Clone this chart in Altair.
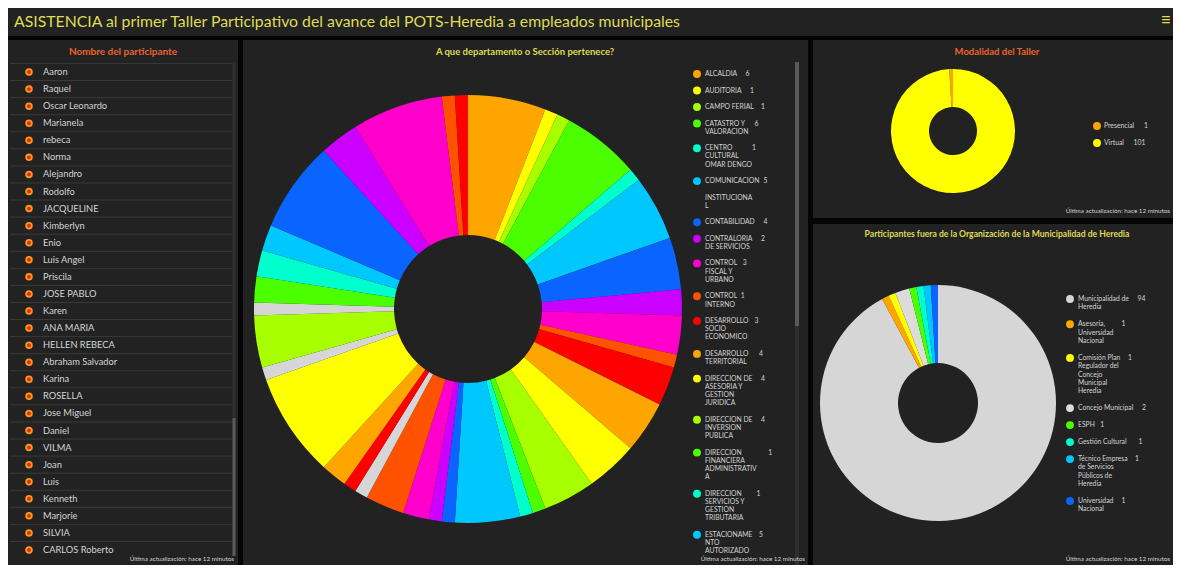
import altair as alt
import pandas as pd

FONT = "Lato"
PAGE_BG = "#050505"
PANEL_BG = "#222222"
ORANGE_T = "#e8642c"
YELLOW_T = "#dfdc55"
TXT = "#d4d4d4"

TITLE = "ASISTENCIA al primer Taller Participativo del avance del POTS-Heredia a empleados municipales"
FOOT = "Última actualización: hace 12 minutos"

# ---------------- data ----------------
participants = ["Aaron", "Raquel", "Oscar Leonardo", "Marianela", "rebeca", "Norma",
                "Alejandro", "Rodolfo", "JACQUELINE", "Kimberlyn", "Enio", "Luis Angel",
                "Priscila", "JOSE PABLO", "Karen", "ANA MARIA", "HELLEN REBECA",
                "Abraham Salvador", "Karina", "ROSELLA", "Jose Miguel", "Daniel", "VILMA",
                "Joan", "Luis", "Kenneth", "Marjorie", "SILVIA", "CARLOS Roberto"]

dept_names = ["ALCALDIA", "AUDITORIA", "CAMPO FERIAL", "CATASTRO Y VALORACION",
              "CENTRO CULTURAL OMAR DENGO", "COMUNICACION INSTITUCIONAL", "CONTABILIDAD",
              "CONTRALORIA DE SERVICIOS", "CONTROL FISCAL Y URBANO", "CONTROL INTERNO",
              "DESARROLLO SOCIO ECONOMICO", "DESARROLLO TERRITORIAL",
              "DIRECCION DE ASESORIA Y GESTION JURIDICA", "DIRECCION DE INVERSION PUBLICA",
              "DIRECCION FINANCIERA ADMINISTRATIVA", "DIRECCION SERVICIOS Y GESTION TRIBUTARIA",
              "ESTACIONAMIENTO AUTORIZADO", "GESTION AMBIENTAL", "GESTION DE COBROS",
              "GESTION DEL RIESGO", "GESTION SOCIAL", "GUARDERIA", "INFORMATICA", "INGENIERIA",
              "INSPECCION MUNICIPAL", "MERCADO", "OFICINA DE LA MUJER", "PATENTES",
              "PLANIFICACION", "POLICIA MUNICIPAL", "PROVEEDURIA", "RECURSOS HUMANOS",
              "SALUD OCUPACIONAL", "SERVICIOS PUBLICOS", "TESORERIA", "TOPOGRAFIA"]
dept_counts = [6, 1, 1, 6, 1, 5, 4, 2, 3, 1, 3, 4, 4, 4, 1, 1, 5,
               1, 1, 2, 3, 1, 1, 2, 8, 1, 4, 1, 2, 2, 2, 7, 3, 7, 1, 1]
dept_gray = ["GUARDERIA", "MERCADO", "PATENTES"]
# labels shown in the (scrolled) legend, wrapped as in the dashboard
dept_legend_labels = ["ALCALDIA", "AUDITORIA", "CAMPO FERIAL", "CATASTRO Y\nVALORACION",
                      "CENTRO\nCULTURAL\nOMAR DENGO", "COMUNICACION\n\nINSTITUCIONA\nL",
                      "CONTABILIDAD", "CONTRALORIA\nDE SERVICIOS", "CONTROL\nFISCAL Y\nURBANO",
                      "CONTROL\nINTERNO", "DESARROLLO\nSOCIO\nECONOMICO", "DESARROLLO\nTERRITORIAL",
                      "DIRECCION DE\nASESORIA Y\nGESTION\nJURIDICA", "DIRECCION DE\nINVERSION\nPUBLICA",
                      "DIRECCION\nFINANCIERA\nADMINISTRATIV\nA", "DIRECCION\nSERVICIOS Y\nGESTION\nTRIBUTARIA",
                      "ESTACIONAME\nNTO\nAUTORIZADO"]

modal_names = ["Presencial", "Virtual"]
modal_counts = [1, 101]

ext_names = ["Municipalidad de Heredia", "Asesoría, Universidad Nacional",
             "Comisión Plan Regulador del Concejo Municipal Heredia", "Concejo Municipal",
             "ESPH", "Gestión Cultural", "Técnico Empresa de Servicios Públicos de Heredia",
             "Universidad Nacional"]
ext_counts = [94, 1, 1, 2, 1, 1, 1, 1]
ext_legend_labels = ["Municipalidad de\nHeredia", "Asesoría,\nUniversidad\nNacional",
                     "Comisión Plan\nRegulador del\nConcejo\nMunicipal\nHeredia",
                     "Concejo Municipal", "ESPH", "Gestión Cultural",
                     "Técnico Empresa\nde Servicios\nPúblicos de\nHeredia", "Universidad\nNacional"]

# ---------------- styles ----------------
palette = ["#FFA500", "#FFFF00", "#A8FF00", "#4CFF00", "#00FFCC", "#00C8FF",
           "#0A64FF", "#CC00FF", "#FF00CC", "#FF5200", "#FF0000"]
GRAY = "#D6D6D6"
dept_colors = []
k = 0
for n in dept_names:
    if n in dept_gray:
        dept_colors.append(GRAY)
    else:
        dept_colors.append(palette[k % len(palette)])
        k += 1
modal_colors = ["#FFA500", "#FFFF00"]
ext_colors = [GRAY, "#FFA500", "#FFFF00", "#DCDCDC", "#4CFF00", "#00FFCC", "#00C8FF", "#0A64FF"]


def text_width(s):
    w = 0.0
    for c in s:
        if c == " ":
            w += 2.0
        elif c.isupper() or c.isdigit():
            w += 4.55
        else:
            w += 3.5
    return w


def legend_frames(labels, counts, names, y0, gap=17.0, lh=8.4):
    entries, lines_rows = [], []
    y = y0
    for lab, cnt, nm in zip(labels, counts, names):
        lines = lab.split("\n")
        entries.append({"name": nm, "val": str(cnt), "ly": y,
                        "vw": max(text_width(l) for l in lines)})
        for i, l in enumerate(lines):
            if l:
                lines_rows.append({"line": l, "ty": y + i * lh})
        y += gap + (len(lines) - 1) * lh
    return pd.DataFrame(entries), pd.DataFrame(lines_rows)


def note(text, x, y, color=TXT, size=7, align="left", weight="normal", baseline="middle"):
    return alt.Chart(pd.DataFrame({"t": [text]})).mark_text(
        align=align, baseline=baseline, color=color, fontSize=size, fontWeight=weight, font=FONT
    ).encode(x=alt.value(x), y=alt.value(y), text="t:N")


def bar(x, x2, y, y2, color):
    return alt.Chart(pd.DataFrame({"a": [0]})).mark_rect(color=color).encode(
        x=alt.value(x), x2=alt.value(x2), y=alt.value(y), y2=alt.value(y2))


def legend_layers(frames, H, cx, tx, domain, colors, size=6.8):
    ent, lines = frames
    ys = alt.Scale(domain=[0, H], range=[0, H], zero=False, nice=False)
    dots = alt.Chart(ent).mark_circle(size=62, opacity=1).encode(
        x=alt.value(cx), y=alt.Y("ly:Q", scale=ys, axis=None),
        color=alt.Color("name:N", scale=alt.Scale(domain=domain, range=colors), legend=None))
    labs = alt.Chart(lines).mark_text(align="left", baseline="middle", color=TXT, fontSize=size,
                                      font=FONT).encode(
        x=alt.value(tx), y=alt.Y("ty:Q", scale=ys, axis=None), text="line:N")
    vals = alt.Chart(ent).transform_calculate(vx=f"{tx} + datum.vw + 4").mark_text(
        align="left", baseline="middle", color=TXT, fontSize=size, font=FONT).encode(
        x=alt.X("vx:Q", scale=alt.Scale(domain=[0, 1000], range=[0, 1000], zero=False, nice=False), axis=None),
        y=alt.Y("ly:Q", scale=ys, axis=None), text="val:N")
    return [dots, labs, vals]


# ---------------- title bar ----------------
TW, TH = 1165, 28
titlebar = alt.layer(
    note(TITLE, 6, 14, color=YELLOW_T, size=15.8),
    note("≡", 1158, 13, color=YELLOW_T, size=18, align="center"),
).properties(width=TW, height=TH)

# ---------------- left panel: participants ----------------
LW, LH = 230, 525
part_df = pd.DataFrame({"name": participants, "row": list(range(len(participants)))})
sep_df = pd.DataFrame({"sep": [i - 0.5 for i in range(len(participants))]})
row_scale = alt.Scale(domain=[0, len(participants) - 1], range=[32, 510], zero=False, nice=False)

seps = alt.Chart(sep_df).mark_rule(color="#3a3a3a", strokeWidth=1).encode(
    y=alt.Y("sep:Q", scale=row_scale, axis=None), x=alt.value(2), x2=alt.value(224))
ring = alt.Chart(part_df).mark_circle(size=56, color="#F39A1E", opacity=1).encode(
    x=alt.value(21), y=alt.Y("row:Q", scale=row_scale, axis=None))
core = alt.Chart(part_df).mark_circle(size=15, color="#E8290F", opacity=1).encode(
    x=alt.value(21), y=alt.Y("row:Q", scale=row_scale, axis=None))
names_txt = alt.Chart(part_df).mark_text(align="left", baseline="middle", color=TXT,
                                         fontSize=9.3, font=FONT).encode(
    x=alt.value(35), y=alt.Y("row:Q", scale=row_scale, axis=None), text="name:N")

left = alt.layer(
    note("Nombre del participante", 115, 12, color=ORANGE_T, size=10, align="center", weight="bold"),
    bar(224.5, 227.5, 22, 516, "#2e2e2e"),
    bar(224.5, 227.5, 378, 516, "#5a5a5a"),
    seps, ring, core, names_txt,
    note(FOOT, 226, 519, size=6.3, align="right"),
).properties(width=LW, height=LH)

# ---------------- middle panel: departments ----------------
MW, MH = 565, 525
dept_df = pd.DataFrame({"name": dept_names, "count": dept_counts, "ord": list(range(len(dept_names)))})
dept_arc = alt.Chart(dept_df).mark_arc(innerRadius=74, outerRadius=214, strokeWidth=0).encode(
    theta=alt.Theta("count:Q", stack=True),
    order=alt.Order("ord:Q"),
    color=alt.Color("name:N", scale=alt.Scale(domain=dept_names, range=dept_colors), legend=None),
    x=alt.value(225), y=alt.value(269))
nleg = len(dept_legend_labels)
dept_leg = legend_frames(dept_legend_labels, dept_counts[:nleg], dept_names[:nleg], 34, gap=16.5, lh=8.2)

middle = alt.layer(
    note("A que departamento o Sección pertenece?", 282, 12, color=YELLOW_T, size=9.5,
         align="center", weight="bold"),
    dept_arc,
    bar(552, 556, 22, 525, "#2e2e2e"),
    bar(552, 556, 22, 286, "#5a5a5a"),
    *legend_layers(dept_leg, MH, 454, 462, dept_names, dept_colors),
    note(FOOT, 562, 519, size=6.3, align="right"),
).properties(width=MW, height=MH)

# ---------------- right top: modalidad ----------------
RW, RTH, RBH = 360, 178, 341
modal_df = pd.DataFrame({"name": modal_names, "count": modal_counts, "ord": [0, 1]})
modal_arc = alt.Chart(modal_df).mark_arc(innerRadius=24, outerRadius=62, strokeWidth=0).encode(
    theta=alt.Theta("count:Q", stack=True),
    order=alt.Order("ord:Q", sort="descending"),
    color=alt.Color("name:N", scale=alt.Scale(domain=modal_names, range=modal_colors), legend=None),
    x=alt.value(140), y=alt.value(91))
modal_leg = legend_frames(modal_names, modal_counts, modal_names, 86, gap=17.0)
rtop = alt.layer(
    note("Modalidad del Taller", 184, 12, color=ORANGE_T, size=9.5, align="center", weight="bold"),
    modal_arc,
    *legend_layers(modal_leg, RTH, 284, 291, modal_names, modal_colors),
    note(FOOT, 357, 171, size=6.3, align="right"),
).properties(width=RW, height=RTH)

# ---------------- right bottom: externos ----------------
ext_df = pd.DataFrame({"name": ext_names, "count": ext_counts, "ord": list(range(len(ext_names)))})
ext_arc = alt.Chart(ext_df).mark_arc(innerRadius=40, outerRadius=118, strokeWidth=0).encode(
    theta=alt.Theta("count:Q", stack=True),
    order=alt.Order("ord:Q"),
    color=alt.Color("name:N", scale=alt.Scale(domain=ext_names, range=ext_colors), legend=None),
    x=alt.value(125), y=alt.value(179))
ext_leg = legend_frames(ext_legend_labels, ext_counts, ext_names, 75, gap=17.0, lh=8.3)
rbot = alt.layer(
    note("Participantes fuera de la Organización de la Municipalidad de Heredia", 184, 10,
         color=YELLOW_T, size=8.6, align="center", weight="bold"),
    ext_arc,
    *legend_layers(ext_leg, RBH, 257, 265, ext_names, ext_colors),
    note(FOOT, 357, 335, size=6.3, align="right"),
).properties(width=RW, height=RBH)

right = alt.vconcat(rtop, rbot, spacing=6, bounds="flush").resolve_scale(color="independent")
body = alt.hconcat(left, middle, right, spacing=5, bounds="flush").resolve_scale(color="independent")
chart = (
    alt.vconcat(titlebar, body, spacing=4, bounds="flush")
    .resolve_scale(color="independent")
    .properties(padding=0, background=PAGE_BG)
    .configure(font=FONT)
    .configure_view(fill=PANEL_BG, strokeWidth=0, stroke=None)
)

chart.save("out.html", embed_options={"renderer": "svg", "actions": False})
